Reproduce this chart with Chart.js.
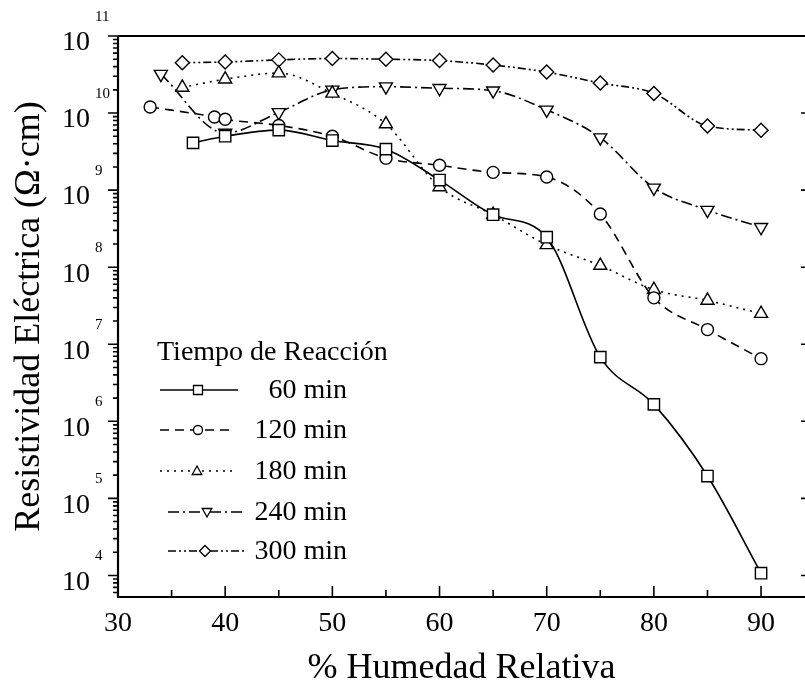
<!DOCTYPE html>
<html>
<head>
<meta charset="utf-8">
<script src="https://cdn.jsdelivr.net/npm/chart.js@4/dist/chart.umd.min.js"></script>
<style>
  html, body { margin: 0; padding: 0; background: #fff; }
  #wrap { width: 805px; height: 683px; }
</style>
</head>
<body>
<div id="wrap"><canvas id="chart" width="805" height="683"></canvas></div>
<script>
// humedad relativa (%) y resistividad (ohm cm) por tiempo de reaccion
var seriesNames = ['60 min', '120 min', '180 min', '240 min', '300 min'];

var hum60 = [37, 40, 45, 50, 55, 60, 65, 70, 75, 80, 85, 90];
var res60 = [4.1e9, 5.0e9, 6.0e9, 4.4e9, 3.4e9, 1.35e9, 4.8e8, 2.45e8, 6.8e6, 1.66e6, 1.95e5, 1.07e4];

var hum120 = [33, 39, 40, 45, 50, 55, 60, 65, 70, 75, 80, 85, 90];
var res120 = [1.2e10, 8.9e9, 8.3e9, 6.9e9, 5.0e9, 2.6e9, 2.1e9, 1.7e9, 1.48e9, 4.9e8, 4.0e7, 1.55e7, 6.5e6];

var hum180 = [36, 40, 45, 50, 55, 60, 65, 70, 75, 80, 85, 90];
var res180 = [2.15e10, 2.75e10, 3.3e10, 1.8e10, 7.2e9, 1.1e9, 4.8e8, 1.95e8, 1.05e8, 5.1e7, 3.7e7, 2.5e7];

var hum240 = [34, 40, 45, 50, 55, 60, 65, 70, 75, 80, 85, 90];
var res240 = [3.2e10, 5.5e9, 1.02e10, 2.0e10, 2.2e10, 2.1e10, 1.95e10, 1.1e10, 4.8e9, 1.07e9, 5.5e8, 3.3e8];

var hum300 = [36, 40, 45, 50, 55, 60, 65, 70, 75, 80, 85, 90];
var res300 = [4.5e10, 4.6e10, 4.9e10, 5.1e10, 5.0e10, 4.8e10, 4.2e10, 3.4e10, 2.45e10, 1.8e10, 6.8e9, 6.0e9];

var xTicks = [30, 40, 50, 60, 70, 80, 90];
var yExponents = [4, 5, 6, 7, 8, 9, 10, 11];

var serif = '"Liberation Serif", "Times New Roman", serif';

function pts(xs, ys) {
  return xs.map(function (x, i) { return { x: x, y: ys[i] }; });
}

function makeSet(i, xs, ys, dash, style, rot, r) {
  return {
    label: seriesNames[i],
    data: pts(xs, ys),
    borderColor: '#000',
    borderWidth: 1.6,
    borderDash: dash,
    pointStyle: style,
    pointRotation: rot,
    pointRadius: r,
    pointHoverRadius: r,
    pointBorderWidth: 1.4,
    pointBorderColor: '#000',
    pointBackgroundColor: '#fff',
    cubicInterpolationMode: 'monotone',
    fill: false
  };
}

// marcador del legend, dibujado a mano
function marker(ctx, style, rot, x, y, r) {
  ctx.beginPath();
  if (style === 'rect') {
    ctx.rect(x - r, y - r, 2 * r, 2 * r);
  } else if (style === 'circle') {
    ctx.arc(x, y, r, 0, Math.PI * 2);
  } else if (style === 'triangle') {
    var s = rot ? -1 : 1;
    ctx.moveTo(x, y - s * r);
    ctx.lineTo(x + r * 0.95, y + s * r * 0.7);
    ctx.lineTo(x - r * 0.95, y + s * r * 0.7);
    ctx.closePath();
  } else {
    ctx.moveTo(x, y - r);
    ctx.lineTo(x + r, y);
    ctx.lineTo(x, y + r);
    ctx.lineTo(x - r, y);
    ctx.closePath();
  }
  ctx.fillStyle = '#fff';
  ctx.fill();
  ctx.stroke();
}

var legendRows = [
  { y: 390, x0: 160, x1: 238, m: 198, r: 4.5 },
  { y: 430, x0: 160, x1: 232, m: 198, r: 4.5 },
  { y: 471, x0: 160, x1: 237, m: 197, r: 5 },
  { y: 512, x0: 168, x1: 243, m: 207, r: 5 },
  { y: 551, x0: 168, x1: 245, m: 205, r: 5.5 }
];

var axisPlugin = {
  id: 'axisMarks',
  afterDraw: function (chart) {
    var ctx = chart.ctx, a = chart.chartArea;
    var xs = chart.scales.x, ys = chart.scales.y;
    ctx.save();
    ctx.strokeStyle = '#000';
    ctx.lineWidth = 2.2;
    ctx.beginPath();
    ctx.moveTo(a.left, a.top);
    ctx.lineTo(a.right, a.top);
    ctx.moveTo(a.left, a.top);
    ctx.lineTo(a.left, a.bottom);
    ctx.lineTo(a.right, a.bottom);
    ctx.stroke();

    ctx.lineWidth = 1.6;
    ctx.beginPath();
    for (var e = 3; e <= 11; e++) {
      for (var m = 1; m <= 9; m++) {
        var v = m * Math.pow(10, e);
        if (v < ys.min || v > ys.max) continue;
        var py = ys.getPixelForValue(v);
        var len = m === 1 ? 10 : 5;
        ctx.moveTo(a.left - len, py);
        ctx.lineTo(a.left, py);
        if (m === 1) {
          ctx.moveTo(a.right - 4, py);
          ctx.lineTo(a.right, py);
        }
      }
    }
    for (var t = 35; t <= 90; t += 5) {
      var px = xs.getPixelForValue(t);
      var tl = t % 10 === 0 ? 11 : 7;
      ctx.moveTo(px, a.bottom);
      ctx.lineTo(px, a.bottom - tl);
    }
    ctx.stroke();

    // exponentes de las potencias de 10
    ctx.fillStyle = '#000';
    ctx.font = '15px ' + serif;
    ctx.textAlign = 'left';
    ctx.textBaseline = 'middle';
    yExponents.forEach(function (p) {
      var py = ys.getPixelForValue(Math.pow(10, p));
      ctx.fillText(String(p), 95, py - 19);
    });

    // leyenda
    ctx.font = '28px ' + serif;
    ctx.textAlign = 'left';
    ctx.fillText('Tiempo de Reacción', 157, 353);
    chart.data.datasets.forEach(function (ds, i) {
      var row = legendRows[i];
      ctx.lineWidth = 1.6;
      ctx.setLineDash(ds.borderDash || []);
      ctx.beginPath();
      ctx.moveTo(row.x0, row.y);
      ctx.lineTo(row.x1, row.y);
      ctx.stroke();
      ctx.setLineDash([]);
      ctx.lineWidth = 1.3;
      marker(ctx, ds.pointStyle, ds.pointRotation, row.m, row.y, row.r);
      ctx.fillStyle = '#000';
      ctx.textAlign = 'right';
      ctx.fillText(ds.label, 347, row.y + 1);
    });
    ctx.restore();
  }
};

new Chart(document.getElementById('chart'), {
  type: 'line',
  data: {
    datasets: [
      makeSet(0, hum60, res60, [], 'rect', 0, 8),
      makeSet(1, hum120, res120, [9, 6], 'circle', 0, 6),
      makeSet(2, hum180, res180, [2, 5], 'triangle', 0, 7.5),
      makeSet(3, hum240, res240, [11, 4, 2, 4], 'triangle', 180, 7.5),
      makeSet(4, hum300, res300, [8, 3, 2, 3, 2, 3], 'rectRot', 0, 7)
    ]
  },
  options: {
    responsive: false,
    devicePixelRatio: 1,
    animation: false,
    layout: { autoPadding: false, padding: { top: 36, right: 0, bottom: 0, left: 0 } },
    plugins: {
      legend: { display: false },
      tooltip: { enabled: false }
    },
    scales: {
      x: {
        type: 'linear',
        min: 30,
        max: 94.1,
        afterBuildTicks: function (scale) {
          scale.ticks = xTicks.map(function (v) { return { value: v }; });
        },
        afterFit: function (scale) { scale.height = 86; },
        grid: { display: false, drawTicks: false },
        border: { display: false },
        ticks: {
          color: '#000',
          padding: 10,
          maxRotation: 0,
          font: { family: serif, size: 28 }
        },
        title: {
          display: true,
          text: '% Humedad Relativa',
          color: '#000',
          padding: 0,
          font: { family: serif, size: 36, lineHeight: 0.8 }
        }
      },
      y: {
        type: 'logarithmic',
        min: 5250,
        max: 1e11,
        afterBuildTicks: function (scale) {
          scale.ticks = yExponents.map(function (p) { return { value: Math.pow(10, p) }; });
        },
        afterFit: function (scale) { scale.width = 118; },
        // marcas invisibles: solo separan las etiquetas del eje
        grid: { display: true, drawOnChartArea: false, drawTicks: true, tickLength: 28, tickColor: 'rgba(0,0,0,0)' },
        border: { display: false },
        ticks: {
          color: '#000',
          padding: 0,
          labelOffset: 7,
          font: { family: serif, size: 28 },
          callback: function () { return '10'; }
        },
        title: {
          display: true,
          text: 'Resistividad Eléctrica (Ω·cm)',
          color: '#000',
          padding: { top: 8, bottom: 0 },
          font: { family: serif, size: 36 }
        }
      }
    }
  },
  plugins: [axisPlugin]
});
</script>
</body>
</html>
